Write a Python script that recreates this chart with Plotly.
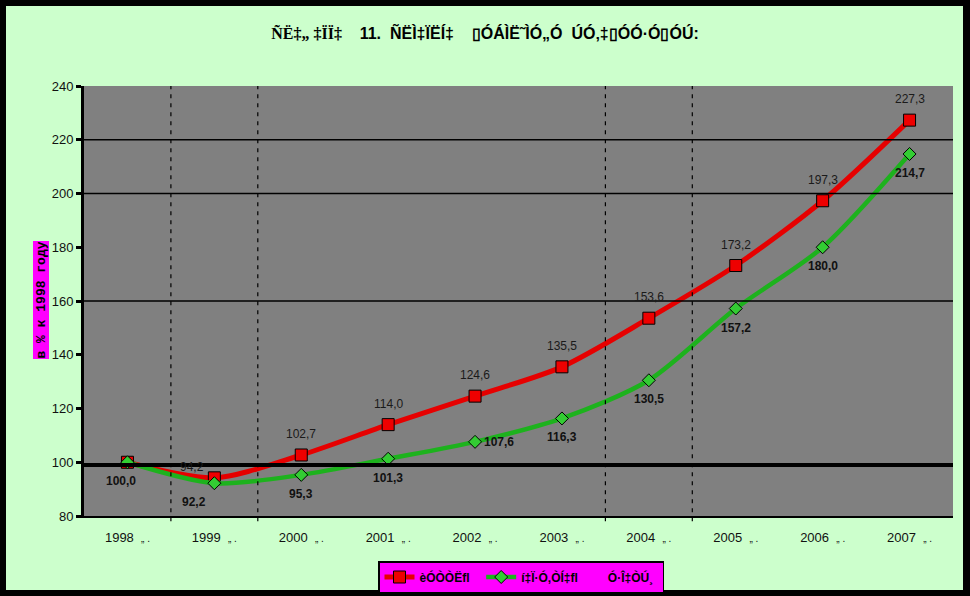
import plotly.graph_objects as go

years = ["1998", "1999", "2000", "2001", "2002", "2003", "2004", "2005", "2006", "2007"]
tick_labels = [y + "\u00a0\u00a0<span style='font-size:10px'>„ .</span>" for y in years]
russia = [100.0, 94.2, 102.7, 114.0, 124.6, 135.5, 153.6, 173.2, 197.3, 227.3]
tambov = [100.0, 92.2, 95.3, 101.3, 107.6, 116.3, 130.5, 157.2, 180.0, 214.7]
name_russia = "èÓÒÒËfl\u00a0\u00a0"
name_tambov = "í‡Ï·Ó‚ÒÍ‡fl\u00a0\u00a0\u00a0\u00a0\u00a0\u00a0\u00a0\u00a0\u00a0Ó·Î‡ÒÚ¸\u00a0"
title_text = ("<span style='font-family:Liberation Serif'>ÑË‡„\u00a0‡ÏÏ‡</span>"
              "\u00a0\u00a0\u00a0\u00a011.\u00a0\u00a0ÑËÌ‡ÏËÍ‡\u00a0\u00a0\u00a0\u00a0▯ÓÁÌË˜ÌÓ„Ó\u00a0\u00a0ÚÓ‚‡▯ÓÓ·Ó▯ÓÚ:")
y_title = "<b>в % к 1998 году</b>"
grid_values = [160, 200, 220]
ref_line = 99
dashed_between = [0.5, 1.5, 5.5, 6.5]

def fmt(v):
    return f"{v:.1f}".replace(".", ",")

L, R, T, B = 84, 17, 86, 80
W, H = 970, 596
pw, ph = W - L - R, H - T - B

def px_x(p):
    return (p - L) / pw

def px_y(p):
    return (H - B - p) / ph

xs = list(range(len(years)))

fig = go.Figure()
fig.add_trace(go.Scatter(
    x=xs, y=russia, name=name_russia, mode="lines+markers",
    line=dict(color="#E60000", width=5, shape="spline", smoothing=0.8),
    marker=dict(symbol="square", size=12, color="#EE0000", line=dict(color="black", width=1)),
))
fig.add_trace(go.Scatter(
    x=xs, y=tambov, name=name_tambov, mode="lines+markers",
    line=dict(color="#1DB21D", width=4.5, shape="spline", smoothing=0.8),
    marker=dict(symbol="diamond", size=10, color="#33CC33", line=dict(color="black", width=1)),
))

red_shift = {1: (-22, 11)}
green_shift = {0: (-6, -19), 1: (-20, -19), 4: (24, 0)}

annotations = []
for i, v in enumerate(russia):
    if i == 0:
        continue
    xsft, ysft = red_shift.get(i, (0, 21))
    annotations.append(dict(x=i, y=v, xref="x", yref="y", text=fmt(v), showarrow=False,
                            yshift=ysft, xshift=xsft,
                            font=dict(family="Liberation Sans", size=12, color="#1a1a1a")))
for i, v in enumerate(tambov):
    xsft, ysft = green_shift.get(i, (0, -19))
    annotations.append(dict(x=i, y=v, xref="x", yref="y", text="<b>" + fmt(v) + "</b>", showarrow=False,
                            yshift=ysft, xshift=xsft,
                            font=dict(family="Liberation Sans", size=12, color="#111")))
annotations.append(dict(x=px_x(32), y=px_y(300), xref="paper", yref="paper",
                        text=y_title, textangle=-90, showarrow=False, bgcolor="#FF00FF",
                        font=dict(family="Liberation Mono", size=13, color="black"),
                        borderpad=0))

black = dict(color="black", width=0)
shapes = [
    dict(type="rect", xref="paper", yref="paper", layer="below",
         x0=px_x(0), x1=px_x(6), y0=px_y(H), y1=px_y(0), fillcolor="black", line=black),
    dict(type="rect", xref="paper", yref="paper", layer="below",
         x0=px_x(963), x1=px_x(W), y0=px_y(H), y1=px_y(0), fillcolor="black", line=black),
    dict(type="rect", xref="paper", yref="paper", layer="below",
         x0=px_x(0), x1=px_x(W), y0=px_y(6), y1=px_y(0), fillcolor="black", line=black),
    dict(type="rect", xref="paper", yref="paper", layer="below",
         x0=px_x(0), x1=px_x(W), y0=px_y(H), y1=px_y(590), fillcolor="black", line=black),
]
for g in grid_values:
    shapes.append(dict(type="line", xref="paper", yref="y", x0=0, x1=1, y0=g, y1=g,
                       line=dict(color="black", width=1.5)))
for d in dashed_between:
    shapes.append(dict(type="line", xref="x", yref="paper", x0=d, x1=d, y0=-0.012, y1=1,
                       line=dict(color="black", width=1.2, dash="4px,5px")))
shapes.append(dict(type="line", xref="paper", yref="y", x0=0, x1=1, y0=ref_line, y1=ref_line,
                   line=dict(color="black", width=4)))

fig.update_layout(
    template="none",
    width=W, height=H,
    margin=dict(l=L, r=R, t=T, b=B, pad=0),
    paper_bgcolor="#CCFFCC",
    plot_bgcolor="#808080",
    title=dict(text=title_text, x=0.5, xanchor="center", xref="container",
               y=(H - 33) / H, yanchor="middle",
               font=dict(family="Liberation Sans", size=16, color="black", weight="bold")),
    xaxis=dict(tickmode="array", tickvals=xs, ticktext=tick_labels, range=[-0.5, 9.5],
               showgrid=False, showline=True, linecolor="black", linewidth=1.5,
               ticks="outside", ticklen=9, tickcolor="rgba(0,0,0,0)", zeroline=False,
               automargin=False,
               tickfont=dict(family="Liberation Sans", size=13, color="#111")),
    yaxis=dict(range=[80, 240], tickmode="array", tickvals=list(range(80, 241, 20)),
               showgrid=False, zeroline=False, showline=True, linecolor="black", linewidth=3,
               ticks="outside", ticklen=5, tickwidth=3, tickcolor="black", automargin=False,
               tickfont=dict(family="Liberation Sans", size=13, color="#111")),
    legend=dict(orientation="h", xref="container", yref="container",
                x=378 / W, xanchor="left", y=1 - 561 / H, yanchor="top",
                bgcolor="#FF00FF", bordercolor="black", borderwidth=1.5,
                font=dict(family="Liberation Sans", size=12, color="black", weight="bold"),
                itemwidth=30, tracegroupgap=0),
    showlegend=True,
    annotations=annotations,
    shapes=shapes,
)
fig.write_html("out.html", config={"displayModeBar": False},
               post_script="document.body.style.margin='0';document.body.style.background='black';")
